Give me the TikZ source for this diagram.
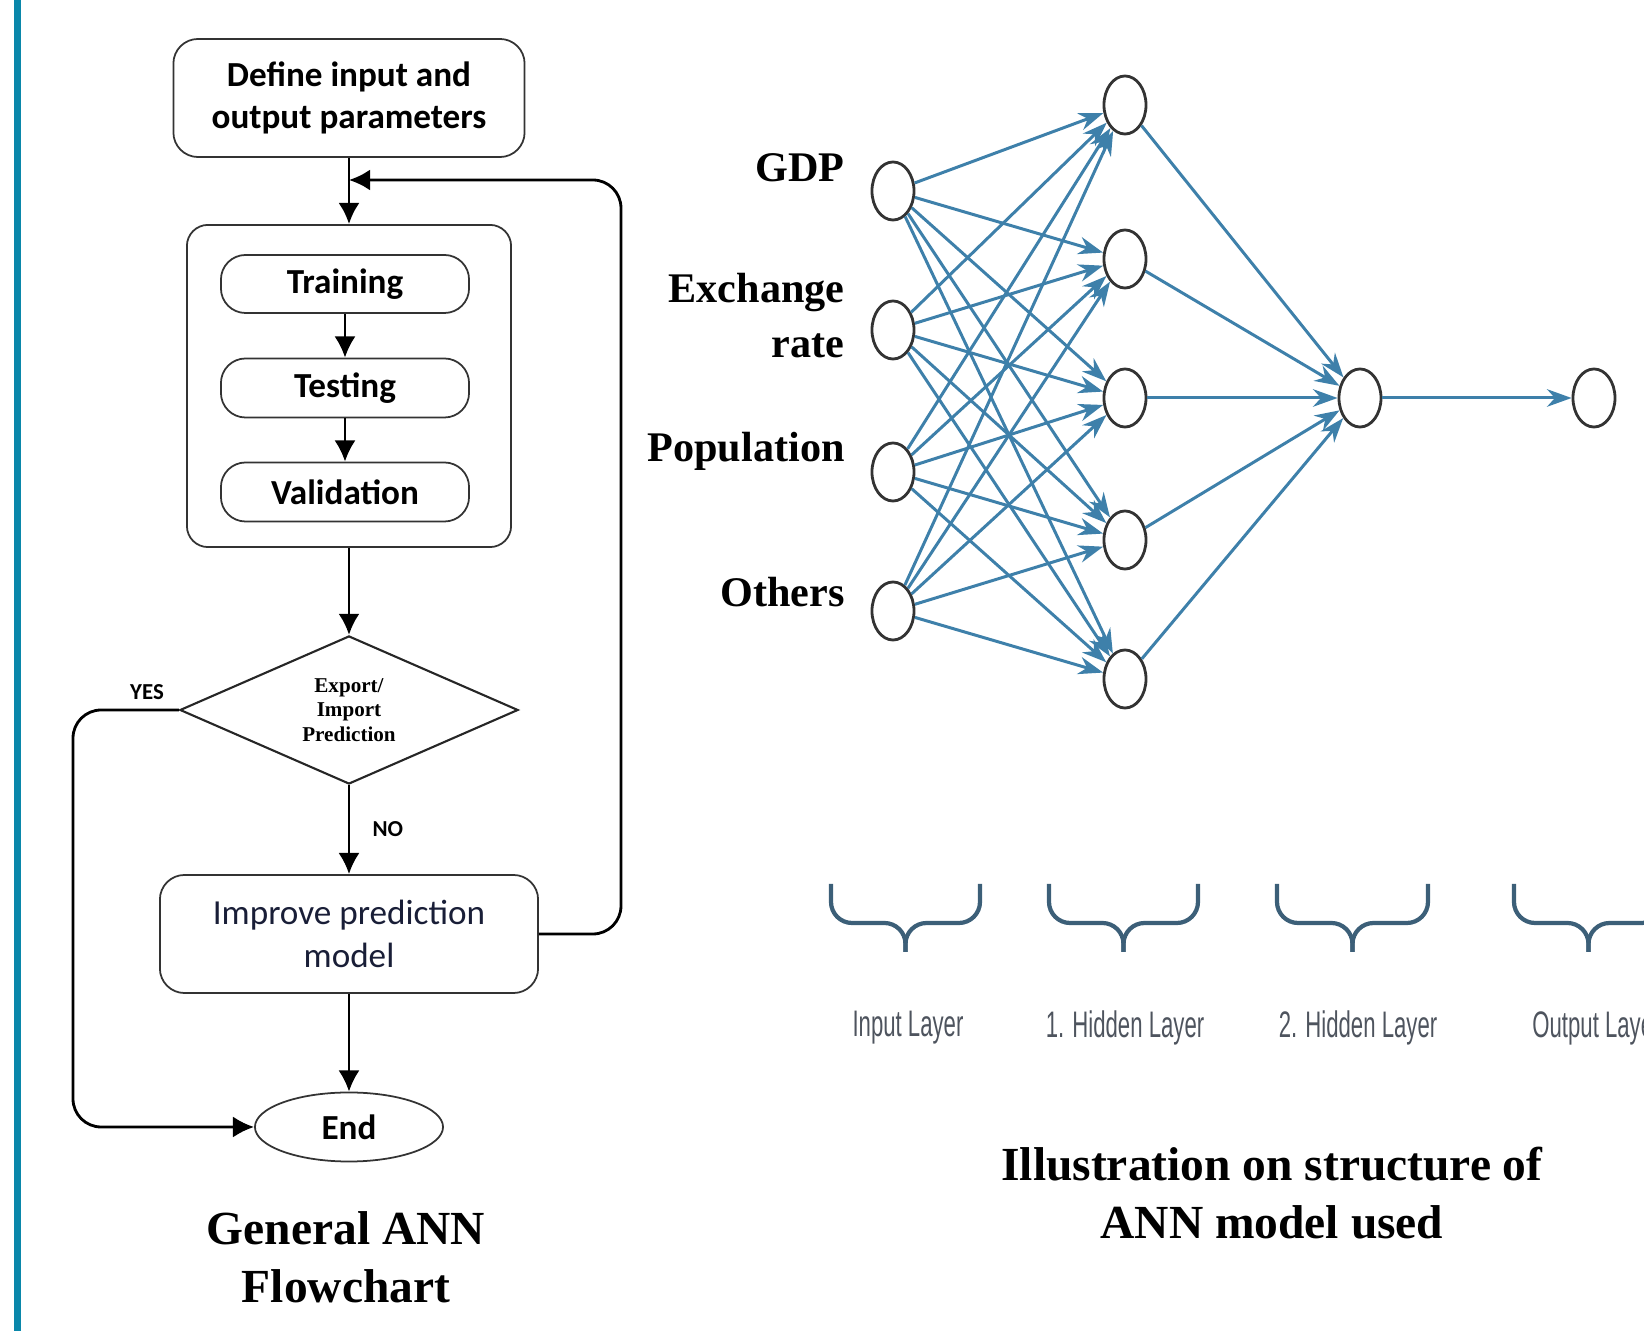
\documentclass[tikz,border=0pt]{standalone}
\usepackage{fontspec}
\setmainfont{Liberation Serif}
\newfontfamily\calibri{Carlito}
\newfontfamily\narrowsans[FakeStretch=0.6]{Liberation Sans}
\usetikzlibrary{shapes.geometric, arrows.meta}

\definecolor{barblue}{RGB}{10,135,170}
\definecolor{netblue}{RGB}{62,128,170}
\definecolor{bracegray}{RGB}{60,95,120}
\definecolor{layergray}{RGB}{78,84,94}
\definecolor{darknavy}{RGB}{25,30,55}

\tikzset{
  flowbox/.style={draw=black!80, line width=0.5pt, rounded corners=7pt, align=center,
    inner sep=0pt, font=\calibri\bfseries\fontsize{10}{12}\selectfont},
  decision/.style={diamond, draw=black!85, line width=0.6pt, aspect=2.3, inner sep=0pt,
    minimum width=3.38cm, minimum height=1.48cm, align=center,
    font=\bfseries\fontsize{6}{7}\selectfont},
  flowarrow/.style={line width=0.8pt, -{Latex[length=6pt,width=6pt]}},
  answer/.style={font=\calibri\bfseries\fontsize{6.5}{7}\selectfont},
  neuron/.style={ellipse, draw=black!80, line width=0.8pt, fill=white,
    minimum width=0.42cm, minimum height=0.58cm, inner sep=0pt},
  synapse/.style={netblue, line width=0.85pt, -{Stealth[length=7pt,width=5pt]}},
  inlabel/.style={anchor=east, align=right, font=\bfseries\fontsize{12}{15.6}\selectfont},
  layerbrace/.style={bracegray, line width=1.2pt, rounded corners=6pt},
  layername/.style={layergray, font=\narrowsans\fontsize{10.5}{11}\selectfont},
  caption/.style={align=center, font=\bfseries\fontsize{13.5}{16.5}\selectfont}
}

\begin{document}
\begin{tikzpicture}[x=0.01cm, y=-0.01cm]
  % page and side bar
  \useasboundingbox (0,0) rectangle (1644,1331);
  \clip (0,0) rectangle (1644,1331);
  \fill[barblue] (14,0) rectangle (21,1331);

  % Flowchart
  \node[flowbox, minimum width=3.51cm, minimum height=1.18cm] (define) at (349,98) {Define input and\\output parameters};
  \node[draw=black!80, line width=0.5pt, rounded corners=6pt, minimum width=3.24cm, minimum height=3.22cm] (loop) at (349,386) {};
  \node[flowbox, minimum width=2.48cm, minimum height=0.58cm] (train) at (345,284) {Training};
  \node[flowbox, minimum width=2.48cm, minimum height=0.59cm] (test) at (345,388) {Testing};
  \node[flowbox, minimum width=2.48cm, minimum height=0.59cm] (valid) at (345,492) {Validation};
  \node[decision] (predict) at (349,710) {Export/\\Import\\Prediction};
  \node[flowbox, darknavy, draw=black!80, font=\calibri\fontsize{10}{12}\selectfont, minimum width=3.78cm, minimum height=1.18cm] (improve) at (349,934) {Improve prediction\\model};
  \node[ellipse, draw=black!80, line width=0.5pt, minimum width=1.88cm, minimum height=0.69cm, font=\calibri\bfseries\fontsize{10}{12}\selectfont] (end) at (349,1127) {End};

  \coordinate (join) at (349,180);
  \coordinate (back) at (621,180);
  \coordinate (yesturn) at (73,1127);

  \draw[flowarrow] (define) -- (loop);
  \draw[flowarrow] (train) -- (test);
  \draw[flowarrow] (test) -- (valid);
  \draw[flowarrow] (loop) -- (predict);
  \draw[flowarrow] (predict) -- node[answer, right, xshift=3pt] (no) {NO} (improve);
  \draw[flowarrow] (improve) -- (end);
  \draw[flowarrow, rounded corners=8pt] (improve.east) -| (back) -- (join);
  \draw[flowarrow, rounded corners=8pt] (predict.west) -| (yesturn) -- (end.west);
  \node[answer] (yes) at (147,692) {YES};

  \node[caption] (flowtitle) at (346,1257) {General ANN\\Flowchart};

  % Network
  \foreach \n/\y in {1/191, 2/330, 3/472, 4/611}
    \node[neuron] (in\n) at (893,\y) {};
  \foreach \n/\y in {1/105, 2/259, 3/398, 4/540, 5/679}
    \node[neuron] (hid\n) at (1125,\y) {};
  \node[neuron] (hidb) at (1360,398) {};
  \node[neuron] (out) at (1594,398) {};

  \foreach \i in {1,...,4}
    \foreach \j in {1,...,5}
      \draw[synapse] (in\i) -- (hid\j);
  \foreach \j in {1,...,5}
    \draw[synapse] (hid\j) -- (hidb);
  \draw[synapse] (hidb) -- (out);

  \node[inlabel] (gdp) at (857,168) {GDP};
  \node[inlabel] (rate) at (857,316) {Exchange\\rate};
  \node[inlabel] (pop) at (857,451) {Population};
  \node[inlabel] (others) at (857,592) {Others};

  % Layer braces
  \foreach \a/\b in {831/980, 1049/1198, 1277/1428, 1514/1663} {
    \pgfmathsetmacro\m{(\a+\b)/2}
    \draw[layerbrace] (\a,884) -- (\a,923) -- (\m,923) -- (\m,952);
    \draw[layerbrace] (\b,884) -- (\b,923) -- (\m,923) -- (\m,952);
  }
  \node[layername] (inname) at (908,1028) {Input Layer};
  \node[layername] (hidaname) at (1125,1028) {1. Hidden Layer};
  \node[layername] (hidbname) at (1358,1028) {2. Hidden Layer};
  \node[layername, anchor=west] (outname) at (1520,1028) {Output Layer};

  \node[caption] (nettitle) at (1272,1193) {Illustration on structure of\\ANN model used};
\end{tikzpicture}
\end{document}
